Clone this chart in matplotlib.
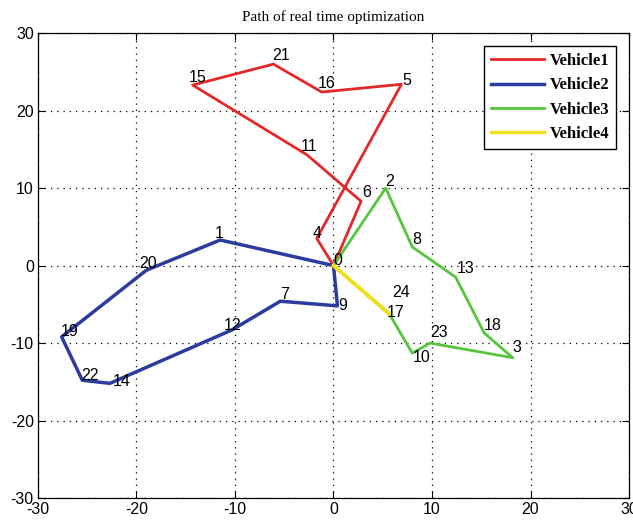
import matplotlib
matplotlib.use('Agg')
import matplotlib.pyplot as plt

plt.rcParams['axes.unicode_minus'] = False

# routes (node ids + coordinates)
v1_ids = [0, 4, 5, 16, 21, 15, 11, 6, 0]
v1_x = [0, -1.7, 6.9, -1.2, -6.1, -14.3, -2.7, 2.8, 0]
v1_y = [0, 3.5, 23.4, 22.4, 26.0, 23.3, 14.3, 8.3, 0]

v2_ids = [0, 1, 20, 19, 22, 14, 12, 7, 9, 0]
v2_x = [0, -11.5, -19.0, -27.6, -25.5, -22.7, -10.3, -5.4, 0.4, 0]
v2_y = [0, 3.3, -0.6, -9.2, -14.8, -15.2, -8.3, -4.6, -5.2, 0]

v3_ids = [0, 2, 8, 13, 18, 3, 23, 10, 17, 0]
v3_x = [0, 5.3, 8.0, 12.4, 15.3, 18.2, 9.8, 8.0, 5.6, 0]
v3_y = [0, 10.0, 2.4, -1.5, -8.7, -11.9, -10.0, -11.3, -6.1, 0]

v4_ids = [0, 24, 0]
v4_x = [0, 5.7, 0]
v4_y = [0, -6.3, 0]

names = ['Vehicle1', 'Vehicle2', 'Vehicle3', 'Vehicle4']
colors = ['#e4282a', '#2c3c9e', '#55c63c', '#efe01e']
widths = [2.0, 2.5, 2.0, 2.5]

# label offsets in pixels (dx right, dy up), default (0, 7)
lab_off = {10: (0, -4), 24: (3, 22), 17: (-2, 0), 9: (1, 0), 3: (0, 10),
           23: (0, 11), 16: (-4, 9), 21: (-1, 9), 13: (1, 9), 6: (1, 9),
           11: (-6, 8), 15: (-4, 8), 12: (-8, 4), 20: (-7, 7), 1: (-5, 7),
           14: (3, 2), 19: (-1, 5), 22: (-1, 5), 4: (-4, 5), 5: (1, 4),
           0: (0, 5)}

my_dpi = 100
fig = plt.figure(figsize=(6.33, 5.26), dpi=my_dpi)
ax = fig.add_axes([0.060, 0.0532, 0.9337, 0.8838])

routes = [(v1_ids, v1_x, v1_y), (v2_ids, v2_x, v2_y),
          (v3_ids, v3_x, v3_y), (v4_ids, v4_x, v4_y)]
for (ids, xs, ys), nm, c, w in zip(routes, names, colors, widths):
    ax.plot(xs, ys, color=c, lw=w, label=nm)

done = set()
for ids, xs, ys in routes:
    for i, x, y in zip(ids, xs, ys):
        if i in done:
            continue
        done.add(i)
        dx, dy = lab_off.get(i, (0, 7))
        ax.annotate(str(i), (x, y), xytext=(dx * 0.72, dy * 0.72),
                    textcoords='offset points', ha='left', va='center',
                    fontsize=11.5, family='Liberation Sans')

ax.set_xlim(-30, 30)
ax.set_ylim(-30, 30)
ax.set_xticks(range(-30, 31, 10))
ax.set_yticks(range(-30, 31, 10))
ax.grid(True, linestyle=(0, (1, 4)), color='black', lw=0.9)
ax.tick_params(direction='in', top=True, right=True, length=5,
               labelsize=11.5, pad=3)
for lab in ax.get_xticklabels() + ax.get_yticklabels():
    lab.set_family('Liberation Sans')
for s in ax.spines.values():
    s.set_linewidth(0.9)

ax.set_title('Path of real time optimization', family='Liberation Serif',
             fontsize=11, pad=9)

leg = ax.legend(loc='upper right', fancybox=False, edgecolor='black',
                framealpha=1, handlelength=3.2, borderaxespad=0.8,
                labelspacing=0.5, handletextpad=0.3,
                prop={'family': 'Liberation Serif', 'weight': 'bold', 'size': 12})
leg.get_frame().set_linewidth(1.0)

plt.savefig('out.png', dpi=my_dpi)
